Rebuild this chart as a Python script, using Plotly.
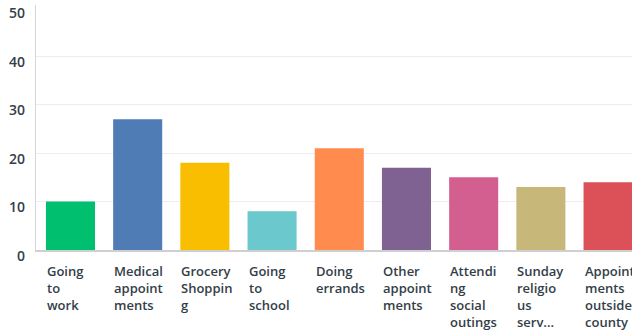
import plotly.graph_objects as go

categories = ["Going to work", "Medical appointments", "Grocery Shopping", "Going to school",
              "Doing errands", "Other appointments", "Attending social outings",
              "Sunday religious services", "Appointments outside county"]
wrapped_labels = ["Going<br>to<br>work", "Medical<br>appoint<br>ments", "Grocery<br>Shoppin<br>g",
                  "Going<br>to<br>school", "Doing<br>errands", "Other<br>appoint<br>ments",
                  "Attendi<br>ng<br>social<br>outings", "Sunday<br>religio<br>us<br>serv...",
                  "Appoint<br>ments<br>outside<br>county"]
values = [10, 27, 18, 8, 21, 17, 15, 13, 14]
colors = ["#00bf6f", "#507cb6", "#f9be00", "#6bc8cd", "#ff8b4f", "#7f6192", "#d25f90", "#c7b879", "#dc5158"]
y_ticks = [0, 10, 20, 30, 40, 50]
grid_ticks = [10, 20, 30, 40]

x_idx = list(range(len(categories)))

fig = go.Figure(go.Bar(x=x_idx, y=values, marker=dict(color=colors, line=dict(width=0)),
                       hovertext=categories, width=0.73))

label_font = dict(family="Open Sans", size=13, color="#333e48", weight=600)
annotations = []
for i, lab in enumerate(wrapped_labels):
    annotations.append(dict(x=i - 0.365, y=0, xref="x", yref="paper", text=lab,
                            xanchor="left", yanchor="top", align="left", showarrow=False,
                            yshift=-10, xshift=-1, font=label_font))
for t in y_ticks:
    annotations.append(dict(x=0, y=t, xref="paper", yref="y", text=str(t),
                            xanchor="right", yanchor="middle", showarrow=False,
                            xshift=-9, yshift=-5,
                            font=dict(family="Open Sans", size=14, color="#333e48", weight=600)))

fig.update_layout(
    width=632, height=333,
    margin=dict(l=36, r=0, t=5, b=83, autoexpand=False),
    paper_bgcolor="white", plot_bgcolor="white",
    showlegend=False,
    annotations=annotations,
    xaxis=dict(range=[-0.513, 8.356], showticklabels=False, showgrid=False, zeroline=False,
               showline=True, linecolor="#cfcfcf", linewidth=2, ticks="", automargin=False),
    yaxis=dict(range=[0, 50.6], tickvals=grid_ticks, showticklabels=False, showgrid=True,
               gridcolor="#ededed", gridwidth=1,
               zeroline=False, showline=True, linecolor="#d6d6d6", linewidth=1, automargin=False,
               ticks=""),
)

fig.write_html("out.html", config={"displayModeBar": False},
               post_script="document.body.style.margin='0';document.body.style.overflow='hidden';")
